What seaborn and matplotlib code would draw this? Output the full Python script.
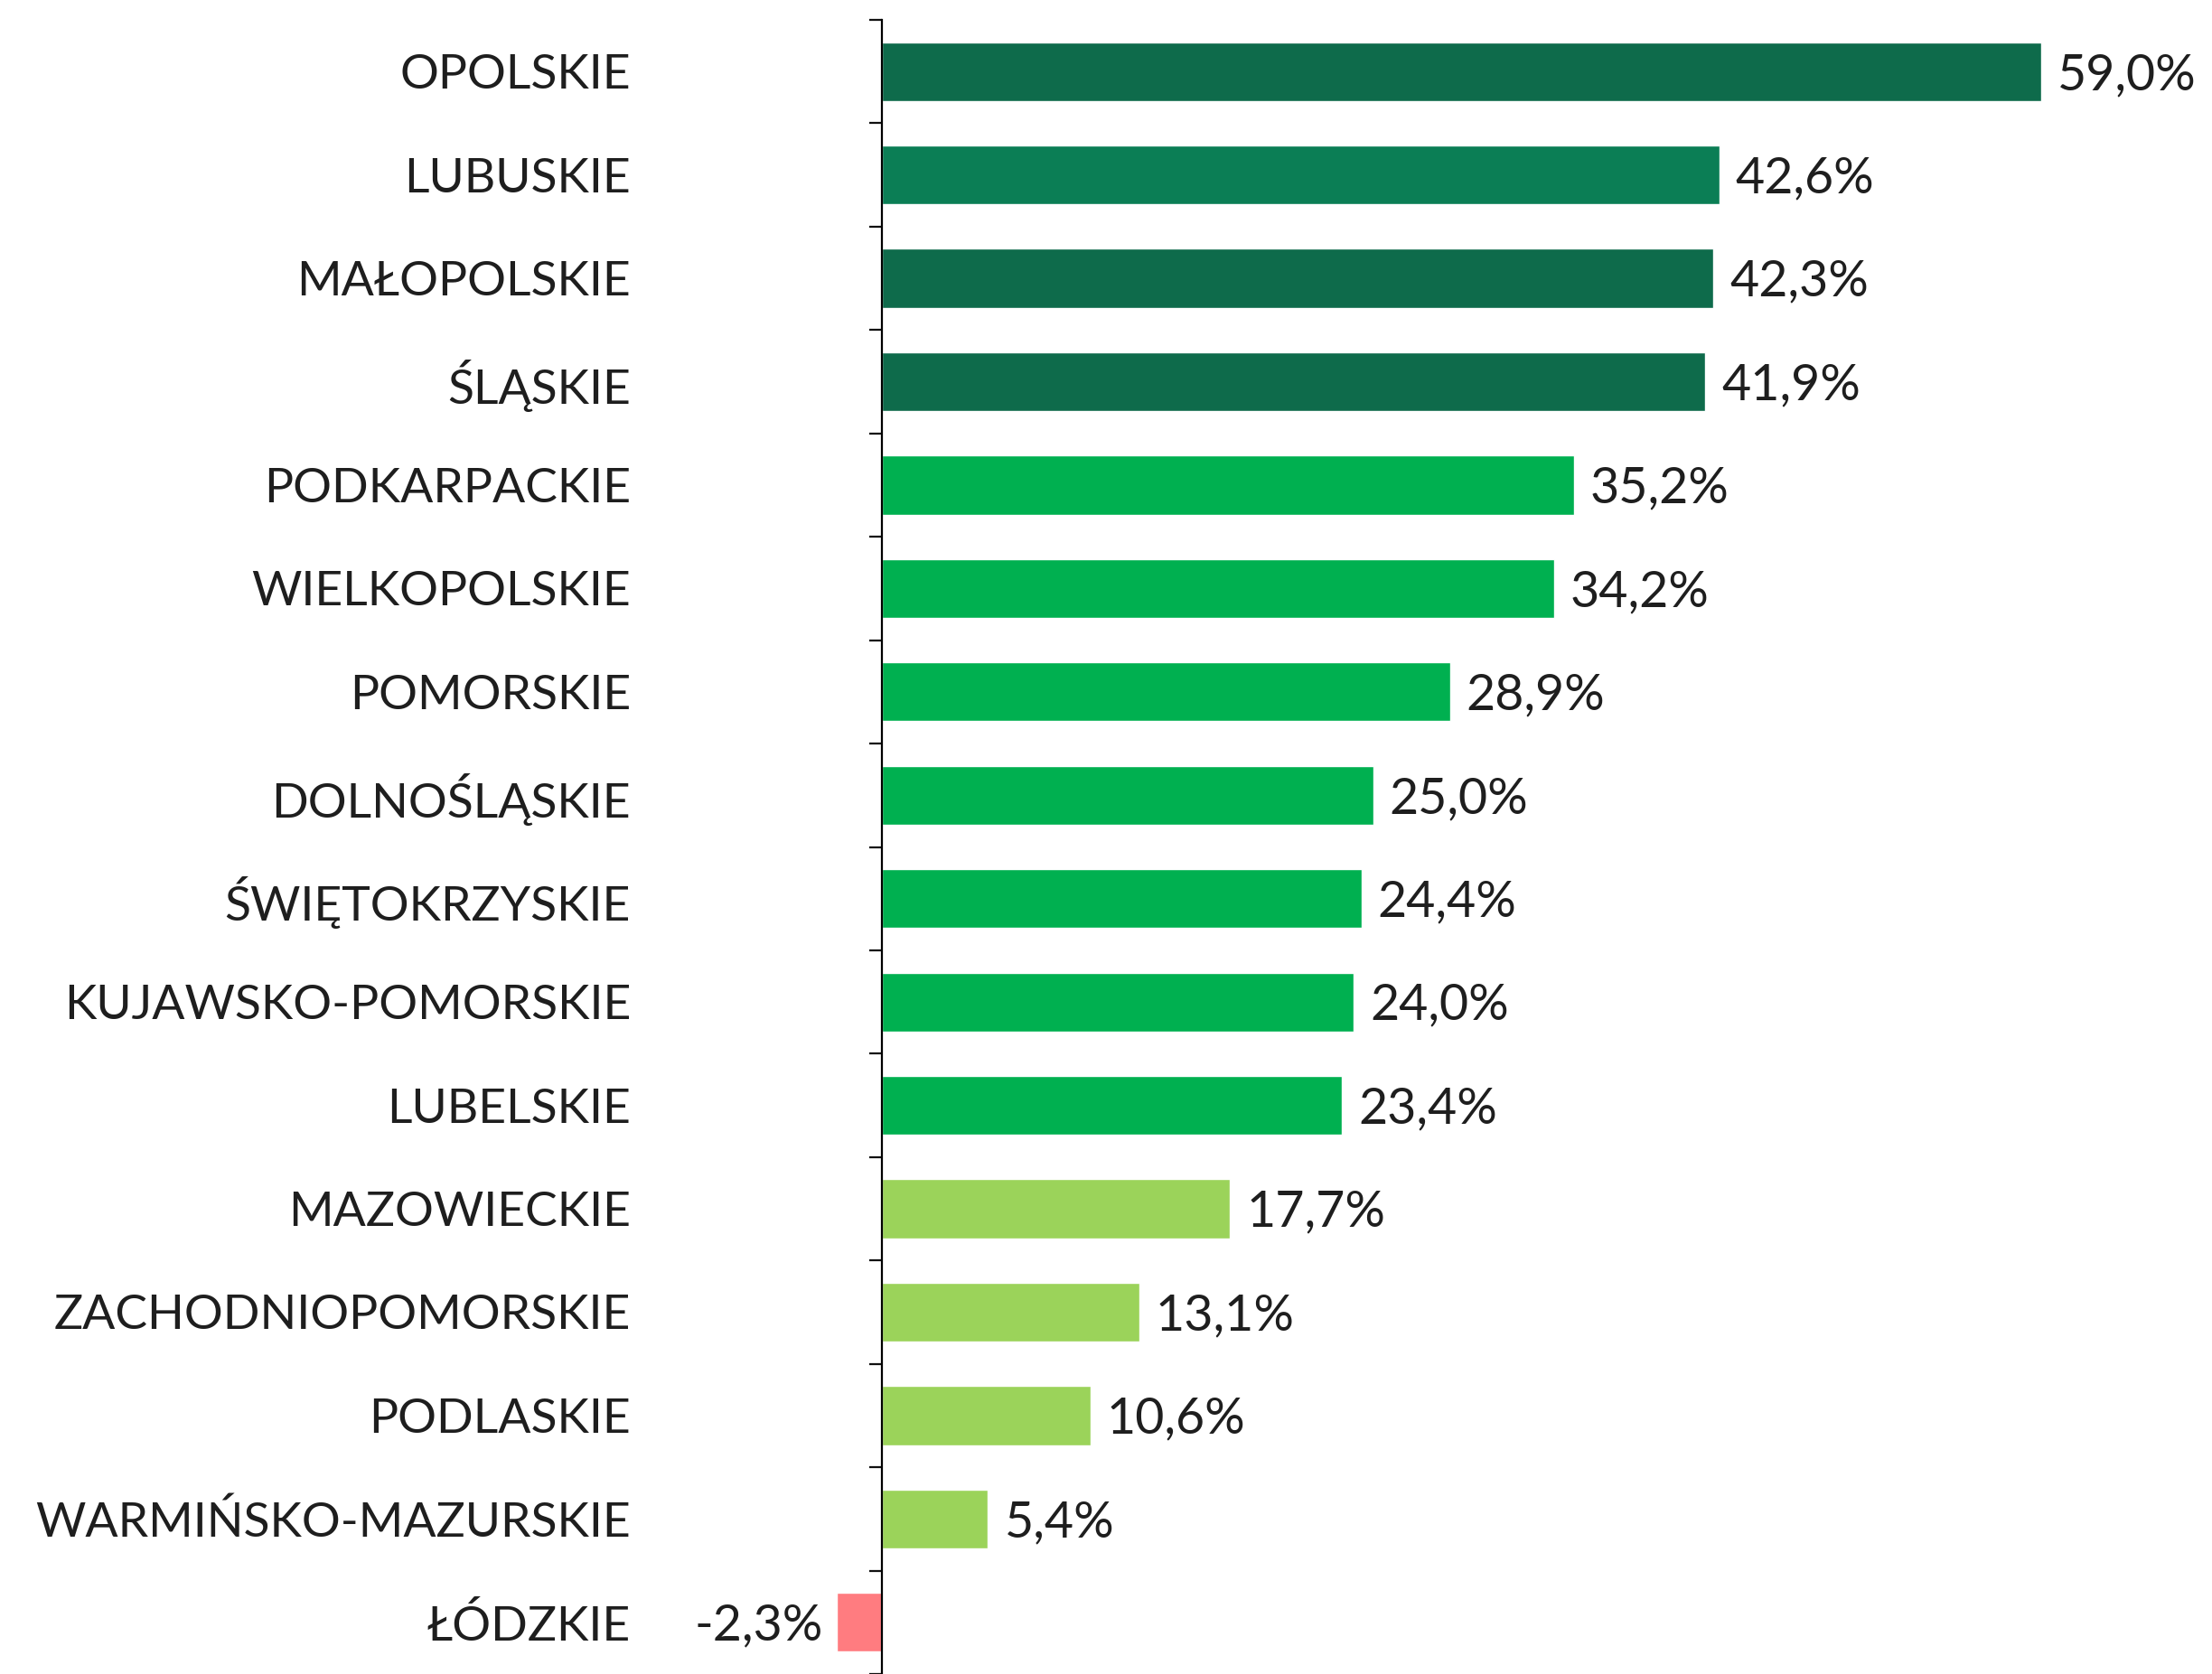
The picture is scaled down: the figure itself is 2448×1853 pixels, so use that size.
import matplotlib
matplotlib.use("Agg")
import matplotlib.pyplot as plt
import seaborn as sns
import pandas as pd

# Data
regions = ["OPOLSKIE", "LUBUSKIE", "MAŁOPOLSKIE", "ŚLĄSKIE", "PODKARPACKIE",
           "WIELKOPOLSKIE", "POMORSKIE", "DOLNOŚLĄSKIE", "ŚWIĘTOKRZYSKIE",
           "KUJAWSKO-POMORSKIE", "LUBELSKIE", "MAZOWIECKIE", "ZACHODNIOPOMORSKIE",
           "PODLASKIE", "WARMIŃSKO-MAZURSKIE", "ŁÓDZKIE"]
values = [59.0, 42.6, 42.3, 41.9, 35.2, 34.2, 28.9, 25.0, 24.4, 24.0, 23.4,
          17.7, 13.1, 10.6, 5.4, -2.3]
colors = ["#0E6B4B", "#0B7E55", "#0E6B4B", "#0E6B4B",
          "#00B050", "#00B050", "#00B050", "#00B050", "#00B050", "#00B050", "#00B050",
          "#9BD35A", "#9BD35A", "#9BD35A", "#9BD35A", "#FF7C80"]

df = pd.DataFrame({"region": regions, "value": values})

sns.set_style("white")
plt.rcParams["font.family"] = ["Lato", "DejaVu Sans"]

W, H = 2448, 1853
fig = plt.figure(figsize=(W / 100, H / 100), dpi=100)

# axes spans from x=200px to right edge; spine placed at data 0 (x=976px)
px_per_unit = 21.75
ax_left_px = 200
ax = fig.add_axes([ax_left_px / W, 0, 1 - ax_left_px / W, 1 - 22 / H])

sns.barplot(data=df, x="value", y="region", hue="region", palette=colors,
            legend=False, orient="h", width=0.57, saturation=1, ax=ax)

ax.set_xlim(-(976 - ax_left_px) / px_per_unit, (W - 976) / px_per_unit)
ax.set_ylim(15.41, -0.5)

for s in ["top", "right", "bottom"]:
    ax.spines[s].set_visible(False)
ax.spines["left"].set_position(("data", 0))
ax.spines["left"].set_color("#000000")
ax.spines["left"].set_linewidth(1.6)

ax.set_xticks([])
ax.set_xlabel("")
ax.set_ylabel("")
ax.tick_params(axis="y", which="major", left=False, length=0, pad=(976 - 698) * 0.72,
               labelsize=38.5, labelcolor="#1E1E1E")
ax.set_yticks([i + 0.5 for i in range(-1, len(regions))], minor=True)
ax.tick_params(axis="y", which="minor", left=True, length=10, width=1.6,
               color="#111111", direction="out")

for i, v in enumerate(values):
    txt = f"{v:.1f}%".replace(".", ",")
    if v >= 0:
        ax.annotate(txt, (v, i), xytext=(13, -3), textcoords="offset points",
                    va="center", ha="left", fontsize=40, color="#1E1E1E")
    else:
        ax.annotate(txt, (v, i), xytext=(-11, -3), textcoords="offset points",
                    va="center", ha="right", fontsize=40, color="#1E1E1E")

fig.savefig("out.png", dpi=100, facecolor="white")
